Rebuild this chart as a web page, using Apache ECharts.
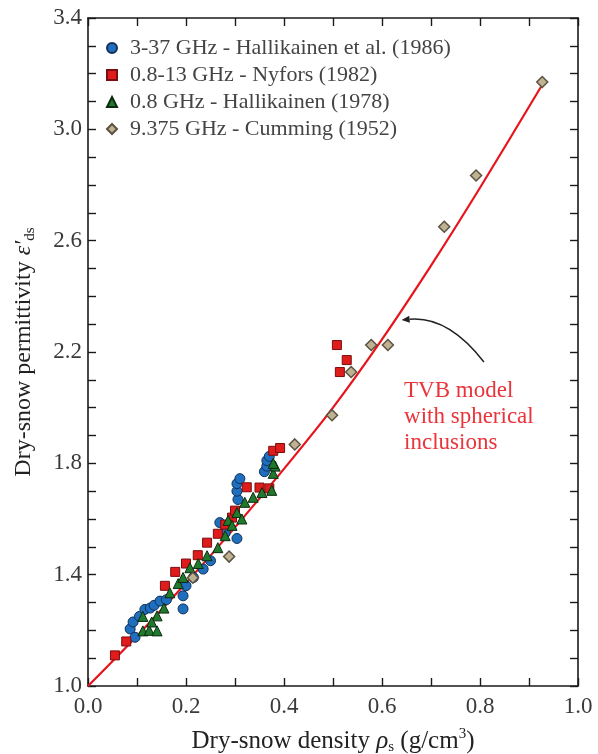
<!DOCTYPE html>
<html><head><meta charset="utf-8">
<script src="https://cdn.jsdelivr.net/npm/echarts@6/dist/echarts.min.js"></script>
<style>html,body{margin:0;padding:0;background:#fff}#c{width:598px;height:754px}</style>
</head><body><div id="c"></div>
<script>
// Series names (legend)
const seriesNames = [
  '3-37 GHz - Hallikainen et al. (1986)',
  '0.8-13 GHz - Nyfors (1982)',
  '0.8 GHz - Hallikainen (1978)',
  '9.375 GHz - Cumming (1952)'
];
// [density g/cm3, permittivity]
const hallikainen1986 = [[0.086,1.205],[0.092,1.23],[0.096,1.175],[0.105,1.25],[0.116,1.275],[0.127,1.28],[0.135,1.29],[0.147,1.305],[0.16,1.31],[0.194,1.277],[0.194,1.324],[0.2,1.36],[0.215,1.39],[0.235,1.42],[0.25,1.45],[0.269,1.587],[0.28,1.55],[0.304,1.53],[0.306,1.67],[0.304,1.70],[0.304,1.727],[0.31,1.745],[0.36,1.77],[0.365,1.79],[0.365,1.81],[0.37,1.825]];
const nyfors1982 = [[0.055,1.11],[0.078,1.16],[0.157,1.36],[0.178,1.41],[0.2,1.44],[0.224,1.47],[0.243,1.515],[0.265,1.547],[0.28,1.58],[0.294,1.605],[0.30,1.63],[0.324,1.714],[0.35,1.713],[0.37,1.71],[0.378,1.845],[0.392,1.855],[0.508,2.225],[0.528,2.171],[0.514,2.128]];
const hallikainen1978 = [[0.112,1.198],[0.125,1.2],[0.141,1.198],[0.112,1.25],[0.141,1.252],[0.13,1.23],[0.155,1.28],[0.167,1.335],[0.184,1.368],[0.194,1.39],[0.208,1.425],[0.225,1.44],[0.243,1.468],[0.265,1.497],[0.28,1.54],[0.286,1.595],[0.294,1.577],[0.304,1.623],[0.314,1.60],[0.32,1.66],[0.337,1.678],[0.355,1.695],[0.375,1.703],[0.378,1.764],[0.382,1.79],[0.378,1.80]];
const cumming1952 = [[0.214,1.389],[0.288,1.465],[0.422,1.868],[0.498,1.973],[0.537,2.128],[0.578,2.225],[0.612,2.225],[0.727,2.65],[0.792,2.834],[0.927,3.17]];
// TVB model curve
const tvbModel = [[0,1.0],[0.1,1.18],[0.2,1.37],[0.3,1.57],[0.4,1.78],[0.5,2.0],[0.6,2.245],[0.7,2.51],[0.8,2.79],[0.927,3.16]];
const annotationLines = ['TVB model','with spherical','inclusions'];

const FONT = 'Liberation Serif';
const AX = '#1a1a1a';
const chart = echarts.init(document.getElementById('c'));

function axisCommon(show) {
  return {
    type: 'value',
    axisLine: { show: true, onZero: false, lineStyle: { color: AX, width: 1.6 } },
    axisTick: { show: true, inside: true, length: 8, lineStyle: { color: AX, width: 1.4 } },
    splitLine: { show: false },
    axisLabel: { show: show }
  };
}
const xBase = { min: 0, max: 1.0, interval: 0.1 };
const yBase = { min: 1.0, max: 3.4, interval: 0.1 };

const option = {
  animation: false,
  backgroundColor: '#fff',
  textStyle: { fontFamily: FONT },
  grid: { left: 88, right: 20, top: 18, bottom: 68, containLabel: false, outerBoundsMode: 'none' },
  legend: {
    orient: 'vertical', left: 101, top: 32,
    itemWidth: 10, itemHeight: 10, itemGap: 5,
    data: seriesNames,
    textStyle: { fontFamily: FONT, fontSize: 22, color: '#444', lineHeight: 22, padding: [0,0,0,8] }
  },
  xAxis: [
    Object.assign(axisCommon(true), xBase, {
      position: 'bottom',
      axisLabel: { show: true, fontFamily: FONT, fontSize: 23, color: '#3a3a3a', margin: 9,
        formatter: v => (Math.round(v * 10) % 2 === 0 ? v.toFixed(1) : '') },
      name: '{n|Dry-snow density }{i|ρ}{sub|s}{n| (g/cm}{sup|3}{n|)}',
      nameLocation: 'middle', nameGap: 41,
      nameTextStyle: { rich: {
        n: { fontFamily: FONT, fontSize: 25, color: '#222', lineHeight: 28 },
        i: { fontFamily: FONT, fontSize: 25, fontStyle: 'italic', color: '#222', lineHeight: 28 },
        sub: { fontFamily: FONT, fontSize: 15, color: '#222', lineHeight: 15, verticalAlign: 'bottom' },
        sup: { fontFamily: FONT, fontSize: 15, color: '#222', lineHeight: 15, verticalAlign: 'top' }
      } }
    }),
    Object.assign(axisCommon(false), xBase, { position: 'top' })
  ],
  yAxis: [
    Object.assign(axisCommon(true), yBase, {
      position: 'left',
      axisLabel: { show: true, fontFamily: FONT, fontSize: 23, color: '#3a3a3a', margin: 6,
        formatter: v => (Math.round(v * 10) % 4 === 2 ? v.toFixed(1) : '') },
      name: '{n|Dry-snow permittivity }{i|ε′}{sub|ds}',
      nameLocation: 'middle', nameGap: 50,
      nameTextStyle: { rich: {
        n: { fontFamily: FONT, fontSize: 24, color: '#222', lineHeight: 28 },
        i: { fontFamily: FONT, fontSize: 24, fontStyle: 'italic', color: '#222', lineHeight: 28 },
        sub: { fontFamily: FONT, fontSize: 15, color: '#222', lineHeight: 15, verticalAlign: 'bottom' }
      } }
    }),
    Object.assign(axisCommon(false), yBase, { position: 'right' })
  ],
  series: [
    { type: 'line', name: 'TVB', data: tvbModel, smooth: 0.3, symbol: 'none', z: 1,
      lineStyle: { color: '#e8141c', width: 2.2 } },
    { type: 'scatter', name: seriesNames[0], data: hallikainen1986, symbol: 'circle', symbolSize: 10, z: 2,
      itemStyle: { color: '#1f6fbf', borderColor: '#12305a', borderWidth: 1, opacity: 1 } },
    { type: 'scatter', name: seriesNames[1], data: nyfors1982, symbol: 'rect', symbolSize: 9, z: 3,
      itemStyle: { color: '#e01b1b', borderColor: '#7a0d0d', borderWidth: 1, opacity: 1 } },
    { type: 'scatter', name: seriesNames[2], data: hallikainen1978, symbol: 'triangle', symbolSize: 10, z: 4,
      itemStyle: { color: '#217a2c', borderColor: '#0b2a10', borderWidth: 1, opacity: 1 } },
    { type: 'scatter', name: seriesNames[3], data: cumming1952, symbol: 'diamond', symbolSize: [11, 11], z: 5,
      itemStyle: { color: '#bfb293', borderColor: '#5b5240', borderWidth: 1.5, opacity: 1 } }
  ]
};
chart.setOption(option);

// Annotation: arrow + text, placed in data coordinates
const P = (x, y) => chart.convertToPixel({ xAxisIndex: 0, yAxisIndex: 0 }, [x, y]);
const start = P(0.808, 2.164), ctrl = P(0.735, 2.33), tip = P(0.64, 2.315);
const textPos = P(0.645, 2.105);
const ang = Math.atan2(tip[1] - ctrl[1], tip[0] - ctrl[0]);
const ah = 8, aw = 3.5;
const base = [tip[0] - ah * Math.cos(ang), tip[1] - ah * Math.sin(ang)];
const head = [tip,
  [base[0] + aw * Math.sin(ang), base[1] - aw * Math.cos(ang)],
  [base[0] - aw * Math.sin(ang), base[1] + aw * Math.cos(ang)]];
chart.setOption({
  graphic: [
    { type: 'bezierCurve', shape: { x1: start[0], y1: start[1], cpx1: ctrl[0], cpy1: ctrl[1], x2: base[0], y2: base[1] },
      style: { stroke: '#222', lineWidth: 1.5, fill: null }, z: 10 },
    { type: 'polygon', shape: { points: head }, style: { fill: '#222' }, z: 10 },
    { type: 'text', x: textPos[0], y: textPos[1], z: 10,
      style: { text: annotationLines.join('\n'), fill: '#e8343a', font: '23px "Liberation Serif"',
        lineHeight: 26, textAlign: 'left', verticalAlign: 'top' } }
  ]
});
</script></body></html>
